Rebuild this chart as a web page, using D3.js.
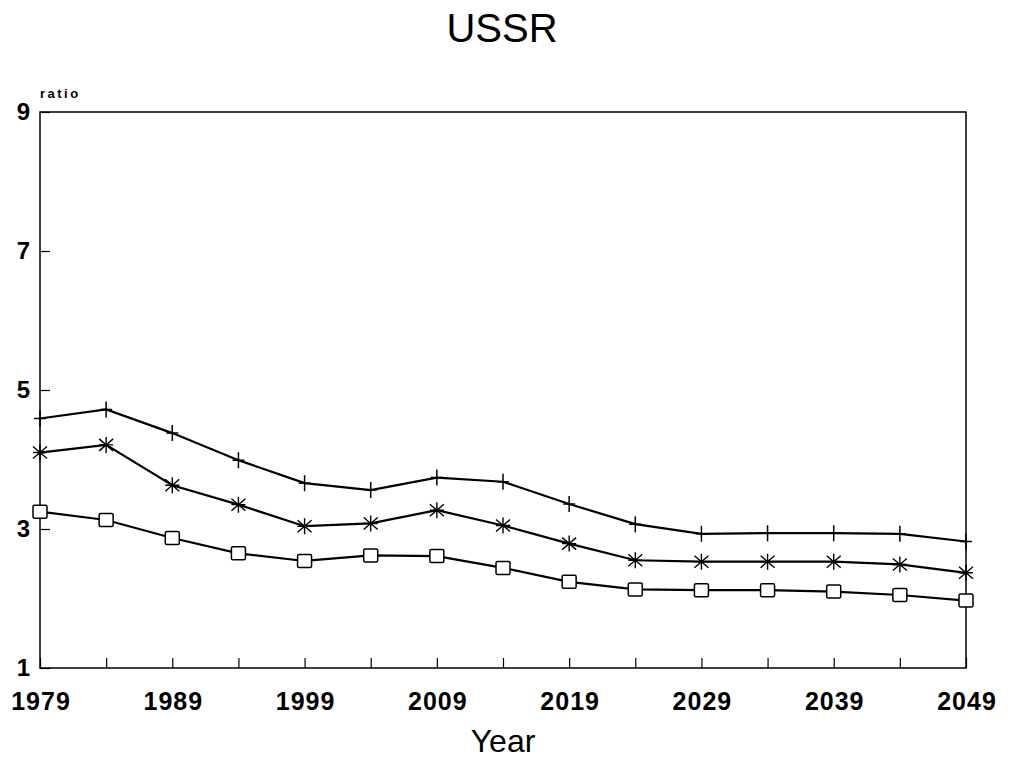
<!DOCTYPE html>
<html>
<head>
<meta charset="utf-8">
<script src="https://cdn.jsdelivr.net/npm/d3@7"></script>
<style>
body { margin: 0; background: #fff; }
text { font-family: "Liberation Sans", Arial, sans-serif; fill: #000; }
</style>
</head>
<body>
<script>
var w = 1014;
var h = 762;

var years = [1979, 1984, 1989, 1994, 1999, 2004, 2009, 2014, 2019, 2024, 2029, 2034, 2039, 2044, 2049];
var plusSeries = [4.59, 4.72, 4.38, 3.99, 3.66, 3.56, 3.74, 3.68, 3.36, 3.07, 2.93, 2.94, 2.94, 2.93, 2.82];
var starSeries = [4.10, 4.21, 3.63, 3.35, 3.04, 3.08, 3.27, 3.05, 2.79, 2.55, 2.53, 2.53, 2.53, 2.49, 2.37];
var squareSeries = [3.25, 3.13, 2.87, 2.65, 2.54, 2.62, 2.61, 2.44, 2.24, 2.13, 2.12, 2.12, 2.10, 2.05, 1.97];
var xTickLabels = [1979, 1989, 1999, 2009, 2019, 2029, 2039, 2049];
var yTickLabels = [1, 3, 5, 7, 9];

var plotLeft = 40, plotRight = 966, plotTop = 112, plotBottom = 668;

var xScale = d3.scaleLinear().domain([1979, 2049]).range([plotLeft, plotRight]);
var yScale = d3.scaleLinear().domain([1, 9]).range([plotBottom, plotTop]);

var svg = d3.select("body")
    .append("svg")
    .attr("width", w)
    .attr("height", h);

// frame
svg.append("rect")
    .attr("x", plotLeft)
    .attr("y", plotTop)
    .attr("width", plotRight - plotLeft)
    .attr("height", plotBottom - plotTop)
    .attr("fill", "none")
    .attr("stroke", "#000")
    .attr("stroke-width", 1.5);

// x axis, ticks pointing inward
var xAxis = d3.axisBottom(xScale)
    .tickValues(years)
    .tickSize(-10)
    .tickFormat(function (d) {
        return xTickLabels.indexOf(d) >= 0 ? d : "";
    });
var gx = svg.append("g")
    .attr("transform", "translate(0," + plotBottom + ")")
    .call(xAxis);
gx.select(".domain").remove();
gx.selectAll("line").attr("stroke", "#000").attr("stroke-width", 1.2);
gx.selectAll("text")
    .attr("y", 24)
    .attr("dy", "0.71em")
    .attr("dx", "0.5px")
    .style("font-size", "25px")
    .style("font-weight", "bold")
    .style("letter-spacing", "1px");

// y axis, ticks pointing inward
var yAxis = d3.axisLeft(yScale)
    .tickValues(yTickLabels)
    .tickSize(-10)
    .tickFormat(d3.format("d"));
var gy = svg.append("g")
    .attr("transform", "translate(" + plotLeft + ",0)")
    .call(yAxis);
gy.select(".domain").remove();
gy.selectAll("line").attr("stroke", "#000").attr("stroke-width", 1.2);
gy.selectAll("text")
    .attr("x", -10)
    .style("font-size", "24px")
    .style("font-weight", "bold");

svg.append("text")
    .attr("x", 40)
    .attr("y", 98)
    .style("font-size", "13px")
    .style("font-weight", "bold")
    .style("letter-spacing", "2.5px")
    .text("ratio");

svg.append("text")
    .attr("x", 502)
    .attr("y", 42)
    .attr("text-anchor", "middle")
    .style("font-size", "40px")
    .text("USSR");

svg.append("text")
    .attr("x", 503)
    .attr("y", 752)
    .attr("text-anchor", "middle")
    .style("font-size", "32px")
    .text("Year");

var line = d3.line()
    .x(function (d) { return xScale(d[0]); })
    .y(function (d) { return yScale(d[1]); });

function pairs(vals) {
    return years.map(function (y, i) { return [y, vals[i]]; });
}

var series = [
    { vals: plusSeries, marker: "plus" },
    { vals: starSeries, marker: "star" },
    { vals: squareSeries, marker: "square" }
];

series.forEach(function (s) {
    var pts = pairs(s.vals);
    svg.append("path")
        .datum(pts)
        .attr("d", line)
        .attr("fill", "none")
        .attr("stroke", "#000")
        .attr("stroke-width", 2.2);

    var m = svg.append("g")
        .selectAll("g")
        .data(pts)
        .enter()
        .append("g")
        .attr("transform", function (d) {
            return "translate(" + xScale(d[0]) + "," + yScale(d[1]) + ")";
        });

    if (s.marker == "plus") {
        m.append("path")
            .attr("d", "M0,-8V8M-6,0H6")
            .attr("stroke", "#000")
            .attr("stroke-width", 1.5);
    } else if (s.marker == "star") {
        m.append("path")
            .attr("d", "M0,-8V8M-7,-6L7,6M-7,6L7,-6M-7,0H7")
            .attr("stroke", "#000")
            .attr("stroke-width", 1.4);
    } else {
        m.append("rect")
            .attr("x", -7)
            .attr("y", -6.5)
            .attr("width", 14)
            .attr("height", 13)
            .attr("rx", 1.5)
            .attr("fill", "#fff")
            .attr("stroke", "#000")
            .attr("stroke-width", 1.5);
    }
});
</script>
</body>
</html>
